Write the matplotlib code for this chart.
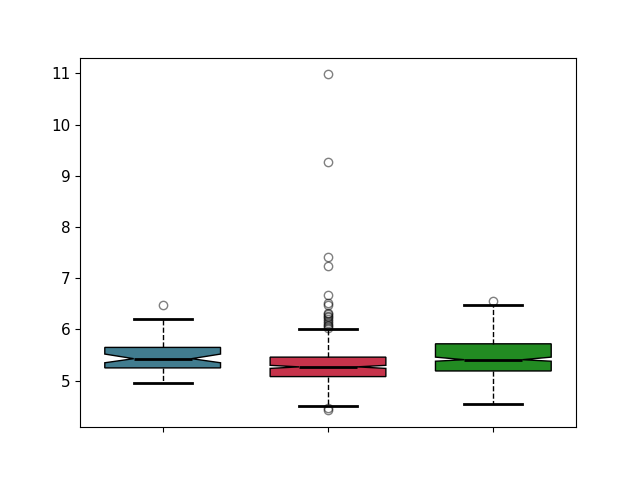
import matplotlib
import matplotlib.pyplot as plt

matplotlib.use('Agg')

# values
medians = [5.43, 5.27, 5.41]
q1s = [5.25, 5.08, 5.19]
q3s = [5.65, 5.46, 5.72]
ci_lo = [5.35, 5.24, 5.38]
ci_hi = [5.52, 5.30, 5.46]
whisk_lo = [4.96, 4.51, 4.55]
whisk_hi = [6.21, 6.00, 6.48]
fliers = [
    [6.47],
    [10.98, 9.27, 7.41, 7.23, 6.68, 6.52, 6.47, 6.33, 6.30, 6.27, 6.24,
     6.20, 6.16, 6.12, 6.09, 6.06, 6.03, 4.46, 4.42],
    [6.56],
]
colors = ['#417c8f', '#c6334b', '#228b22']

stats = []
for i in range(3):
    stats.append(dict(med=medians[i], q1=q1s[i], q3=q3s[i],
                      cilo=ci_lo[i], cihi=ci_hi[i],
                      whislo=whisk_lo[i], whishi=whisk_hi[i],
                      fliers=fliers[i]))

fig, ax = plt.subplots(figsize=(6.4, 4.8), dpi=100)

bp = ax.bxp(stats, positions=[1, 2, 3], widths=0.7, shownotches=True,
            patch_artist=True,
            boxprops=dict(edgecolor='black', linewidth=1),
            whiskerprops=dict(color='black', linestyle='--', linewidth=1),
            capprops=dict(color='black', linewidth=2),
            medianprops=dict(color='black', linewidth=2),
            flierprops=dict(marker='o', markerfacecolor='none',
                            markeredgecolor='black', alpha=0.5, markersize=6))

for patch, c in zip(bp['boxes'], colors):
    patch.set_facecolor(c)

ax.set_xticks([1, 2, 3])
ax.set_xticklabels(['', '', ''])
ax.set_xlim(0.5, 3.5)
ax.tick_params(labelsize=11)

plt.savefig('out.png', dpi=100)
plt.close()
